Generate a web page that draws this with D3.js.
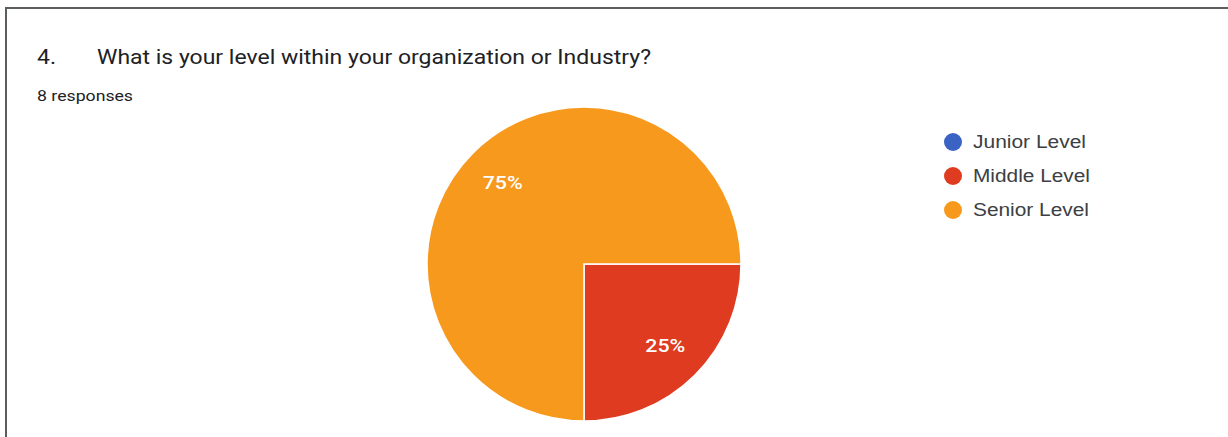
<!DOCTYPE html>
<html>
<head>
<meta charset="utf-8">
<script src="https://cdn.jsdelivr.net/npm/d3@7"></script>
<style>
  html, body { margin: 0; padding: 0; background: #fff; }
  svg { display: block; }
</style>
</head>
<body>
<svg id="chart" width="1228" height="437"></svg>
<script>
// Survey question and response data
const questionNumber = "4.";
const questionText = "What is your level within your organization or Industry?";
const responseNote = "8 responses";
const categories = ["Junior Level", "Middle Level", "Senior Level"];
const counts = [0, 2, 6];
const colors = ["#3b63c4", "#df3b20", "#f7991c"];

const svg = d3.select("#chart");
const W = 1228, H = 437;

// Card frame (top and left edges visible)
svg.append("path")
  .attr("d", `M6,${H} L6,8 L${W},8`)
  .attr("fill", "none")
  .attr("stroke", "#5a5e5c")
  .attr("stroke-width", 2);

// Heading
svg.append("text")
  .attr("x", 37).attr("y", 64)
  .attr("font-family", "Roboto, Arial, sans-serif")
  .attr("font-size", 20)
  .attr("fill", "#202124")
  .attr("textLength", 19)
  .attr("lengthAdjust", "spacingAndGlyphs")
  .text(questionNumber);
svg.append("text")
  .attr("x", 97).attr("y", 64)
  .attr("font-family", "Roboto, Arial, sans-serif")
  .attr("font-size", 20)
  .attr("fill", "#202124")
  .attr("textLength", 554)
  .attr("lengthAdjust", "spacingAndGlyphs")
  .text(questionText);
svg.append("text")
  .attr("x", 37).attr("y", 101)
  .attr("font-family", "Roboto, Arial, sans-serif")
  .attr("font-size", 14)
  .attr("fill", "#202124")
  .attr("textLength", 96)
  .attr("lengthAdjust", "spacingAndGlyphs")
  .text(responseNote);

// Pie
const cx = 584, cy = 264, radius = 157;
const total = d3.sum(counts);
const color = d3.scaleOrdinal().domain(categories).range(colors);
const data = categories.map((c, i) => ({ name: c, value: counts[i] }));

const pie = d3.pie()
  .value(d => d.value)
  .sort(null)
  .startAngle(Math.PI / 2)
  .endAngle(Math.PI / 2 + 2 * Math.PI);

const arc = d3.arc().innerRadius(0).outerRadius(radius);
const labelArc = d3.arc().innerRadius(115).outerRadius(115);

const g = svg.append("g").attr("transform", `translate(${cx},${cy})`);
const arcs = pie(data).filter(d => d.data.value > 0);

g.selectAll("path.slice")
  .data(arcs)
  .join("path")
  .attr("class", "slice")
  .attr("d", arc)
  .attr("fill", d => color(d.data.name))
  .attr("stroke", "#fff")
  .attr("stroke-width", 1.5);

g.selectAll("text.pct")
  .data(arcs)
  .join("text")
  .attr("class", "pct")
  .attr("transform", d => `translate(${labelArc.centroid(d)})`)
  .attr("text-anchor", "middle")
  .attr("dy", "0.35em")
  .attr("font-family", "Roboto, Arial, sans-serif")
  .attr("font-weight", 500)
  .attr("font-size", 18)
  .attr("fill", "#fff")
  .attr("textLength", 40)
  .attr("lengthAdjust", "spacingAndGlyphs")
  .text(d => Math.round(d.data.value / total * 100) + "%");

// Legend
const legend = svg.append("g").attr("transform", "translate(953,142)");
const items = legend.selectAll("g.item")
  .data(categories)
  .join("g")
  .attr("class", "item")
  .attr("transform", (d, i) => `translate(0,${i * 34})`);
items.append("circle")
  .attr("r", 9)
  .attr("fill", d => color(d));
items.append("text")
  .attr("x", 20)
  .attr("dy", "0.35em")
  .attr("font-family", "Arial, 'Liberation Sans', sans-serif")
  .attr("font-size", 18)
  .attr("fill", "#3c4043")
  .attr("textLength", d => ({ "Junior Level": 113, "Middle Level": 117, "Senior Level": 116 })[d])
  .attr("lengthAdjust", "spacingAndGlyphs")
  .text(d => d);
</script>
</body>
</html>
